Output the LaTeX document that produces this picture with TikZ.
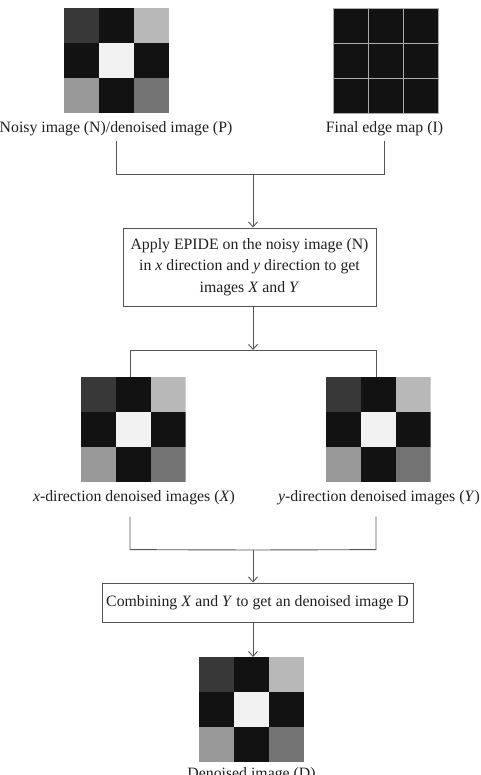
\documentclass[tikz,border=0pt]{standalone}
\usepackage{fontspec}
\setmainfont{Liberation Serif}
\usetikzlibrary{arrows.meta,calc}
\definecolor{gA}{gray}{0.22}
\definecolor{gK}{gray}{0.07}
\definecolor{gL}{gray}{0.72}
\definecolor{gW}{gray}{0.95}
\definecolor{gM}{gray}{0.60}
\definecolor{gN}{gray}{0.45}
\definecolor{lineC}{gray}{0.33}
\definecolor{txtC}{gray}{0.12}
\begin{document}
\begin{tikzpicture}[x=1pt,y=-1pt,
  every node/.style={text=txtC},
  >={Straight Barb[length=5pt,width=9pt]},
  conn/.style={draw=lineC,line width=0.9pt},
  lab/.style={inner sep=0pt,anchor=base,font=\fontsize{15.8}{21.5}\selectfont},
  procbox/.style={draw=lineC,line width=0.9pt,inner sep=3pt,align=center,
    font=\fontsize{15.8}{21.5}\selectfont},
  checker/.style={inner sep=0pt,outer sep=0pt,minimum width=105pt,minimum height=105pt,
    path picture={
      \coordinate (nw) at (path picture bounding box.north west);
      \foreach \c [count=\k from 0] in {gA,gK,gL,gK,gW,gK,gM,gK,gN}{
        \pgfmathtruncatemacro\ci{mod(\k,3)}
        \pgfmathtruncatemacro\cj{div(\k,3)}
        \fill[\c] ([shift={(\ci*35pt,-\cj*35pt)}]nw) rectangle ++(35.3pt,-35.3pt);
      }}},
  edgemap/.style={inner sep=0pt,outer sep=0pt,minimum width=105pt,minimum height=105pt,
    draw=gray!65,line width=0.7pt,fill=gK,
    path picture={
      \coordinate (nw) at (path picture bounding box.north west);
      \foreach \t in {35,70}{
        \draw[gray!65,line width=0.7pt] ([shift={(\t pt,0pt)}]nw) -- ++(0pt,-105pt);
        \draw[gray!65,line width=0.7pt] ([shift={(0pt,-\t pt)}]nw) -- ++(105pt,0pt);
      }}}
]
\useasboundingbox (0,0) rectangle (481,775);

% top row
\node[checker] (N) at (116.5,60.5) {};
\node[edgemap] (E) at (385.5,60.5) {};
\node[lab] (Nlab) at (116,133) {Noisy image (N)/denoised image (P)};
\node[lab] (Elab) at (384.5,133) {Final edge map (I)};

\coordinate (j1) at (253,174);
\draw[conn,shorten <=4.5pt] (Nlab.south) |- (j1);
\draw[conn,shorten <=4.5pt] (Elab.south) |- (j1);

% first process box
\node[procbox,minimum width=253pt,minimum height=78pt] (B1) at (249.5,267)
  {Apply EPIDE on the noisy image (N)\\ in \textit{x} direction and \textit{y} direction to get\\ images \textit{X} and \textit{Y}};
\draw[conn,->] (j1) -- (j1 |- B1.north);

% middle row
\node[checker] (X) at (133,429.5) {};
\node[checker] (Y) at (378,429.5) {};
\coordinate (j2) at (253,350);
\draw[conn,->] (j2 |- B1.south) -- (j2);
\draw[conn] ([xshift=-2.5pt]X.north) -- ([xshift=-2.5pt]X.north |- j2) -| ([xshift=-2pt]Y.north);

\node[lab] (Xlab) at (134,501) {\textit{x}-direction denoised images (\textit{X})};
\node[lab] (Ylab) at (379,501) {\textit{y}-direction denoised images (\textit{Y})};

\coordinate (j3) at (253,550);
\draw[conn] ([xshift=-4pt]Xlab.south) ++(0,12) -- ++(0,33) coordinate (xl) -- (j3);
\draw[conn] ([xshift=-3pt]Ylab.south) ++(0,12) -- ++(0,33) -- (j3);

% second process box
\node[procbox,minimum width=311pt,minimum height=39pt] (B2) at (257.5,602.5)
  {Combining \textit{X} and \textit{Y} to get an denoised image D};
\draw[conn,->] (j3) -- (j3 |- B2.north);

% result
\node[checker] (D) at (251.5,709.5) {};
\draw[conn,->] (j3 |- B2.south) -- (j3 |- D.north);
\node[lab] (Dlab) at (251.5,778) {Denoised image (D)};
\end{tikzpicture}
\end{document}
